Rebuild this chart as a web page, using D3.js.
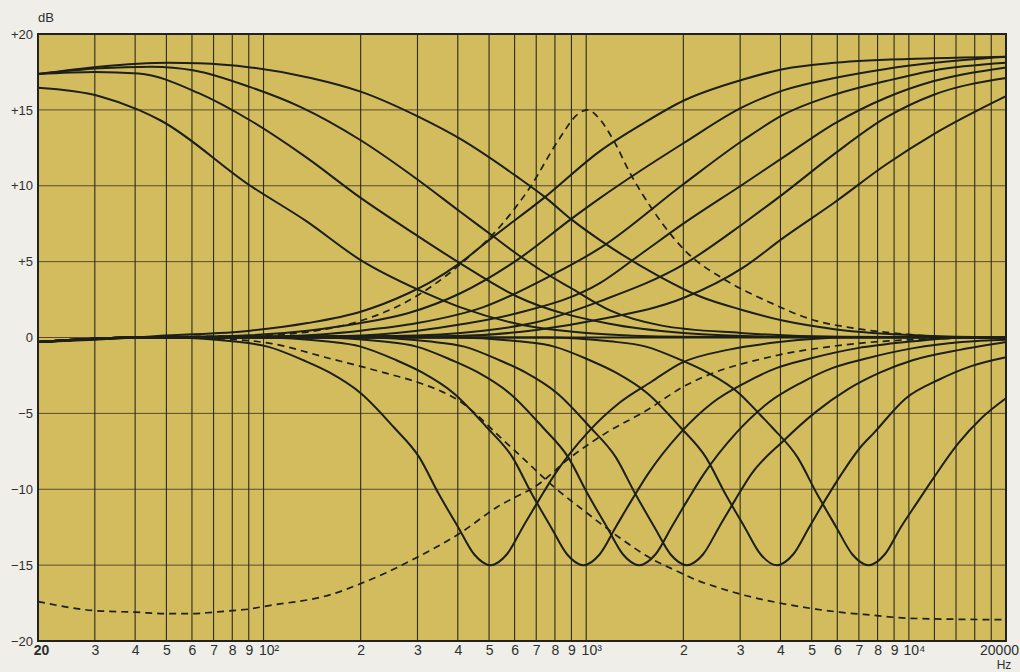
<!DOCTYPE html>
<html>
<head>
<meta charset="utf-8">
<script src="https://cdnjs.cloudflare.com/ajax/libs/d3/7.8.5/d3.min.js"></script>
<style>
body{margin:0;background:#efeee9;}
svg text{font-family:"Liberation Sans",Arial,sans-serif;fill:#2e2e2e;}
</style>
</head>
<body>
<div id="chart"></div>
<script>
// frequency (Hz), level (dB)
var lowShelfA = [[20,17.36],[31,17.85],[51,18.1],[63,18.07],[91,17.8],[140,17.1],[200,16.2],[305,14.5],[406,13.1],[610,10.6],[740,9.3],[910,7.7],[1106,6.4],[1694,4.0],[2255,2.7],[3063,1.8],[4100,1.1],[5880,0.55],[11950,0.1],[20000,0]];
var lowShelfB = [[20,17.36],[31,17.75],[45,17.85],[61,17.6],[91,16.5],[130,15.2],[200,13.0],[305,10.3],[406,8.3],[505,6.8],[610,5.5],[740,4.3],[890,3.3],[1180,1.8],[1700,0.8],[3000,0.3],[6000,0.05],[20000,0]];
var lowShelfC = [[20,17.36],[30,17.5],[41,17.4],[63,16.1],[91,14.3],[135,11.9],[200,9.2],[305,6.6],[406,4.9],[610,2.7],[1180,0.9],[2000,0.3],[4000,0.05],[20000,0]];
var lowShelfD = [[20,16.45],[31,15.9],[41,15.0],[48,14.3],[91,10.0],[135,7.7],[200,5.1],[305,3.1],[406,2.0],[610,0.9],[1000,0.3],[2000,0.05],[20000,0]];

var highShelf1 = [[20,-0.3],[40,0],[47,0.1],[91,0.45],[137,0.95],[200,1.7],[280,2.9],[332,3.7],[406,4.9],[505,6.5],[740,9.2],[1106,12.3],[1500,14.1],[2000,15.6],[3063,17.0],[4100,17.7],[5880,18.1],[11950,18.4],[20000,18.5]];
var highShelf2 = [[20,-0.3],[40,0],[80,0.1],[137,0.45],[200,0.95],[280,1.6],[406,2.9],[610,5.1],[910,7.9],[1106,9.2],[2000,12.8],[3063,15.2],[4100,16.3],[5880,17.1],[8500,17.7],[11950,18.1],[20000,18.5]];
var highShelf3 = [[20,-0.3],[40,0],[120,0.1],[200,0.45],[300,0.95],[480,2.0],[780,4.1],[1106,5.9],[2000,10.1],[3063,13.0],[4100,14.7],[5880,16.0],[8500,16.9],[11950,17.6],[20000,18.1]];
var highShelf4 = [[20,-0.3],[40,0],[180,0.1],[300,0.45],[420,0.9],[610,1.6],[1106,3.6],[1500,5.6],[2000,7.5],[3063,10.1],[4100,11.9],[5880,14.1],[8500,15.8],[11950,16.9],[20000,17.8]];
var highShelf5 = [[20,-0.3],[40,0],[250,0.1],[480,0.45],[700,1.0],[1106,2.4],[2000,4.8],[3063,7.5],[4100,9.5],[5880,12.1],[8500,14.5],[11950,16.0],[20000,17.1]];
var highShelf6 = [[20,-0.3],[40,0],[400,0.1],[700,0.5],[1106,1.2],[2000,2.6],[3063,4.6],[4100,6.6],[5880,8.9],[8500,11.4],[11950,13.4],[20000,15.9]];

var dip500 = [[20,-0.3],[40,0],[50.5,0],[80,-0.25],[103,-0.6],[133,-1.5],[160,-2.3],[201,-3.7],[253,-5.9],[304,-7.9],[349,-10.3],[401,-12.5],[450,-14.3],[505,-15],[567,-14.3],[636,-12.5],[714,-10.7],[800,-9.0],[1007,-6.3],[1268,-4.3],[1597,-2.9],[1960,-1.7],[2770,-0.8],[3960,-0.3],[6400,0],[20000,0]];
var dip1000 = [[20,-0.3],[40,0],[98,0],[155,-0.25],[200,-0.6],[258,-1.5],[310,-2.3],[390,-3.7],[491,-5.9],[591,-7.9],[678,-10.3],[778,-12.5],[873,-14.3],[980,-15],[1100,-14.3],[1234,-12.5],[1385,-10.7],[1553,-9.0],[1955,-6.3],[2462,-4.3],[3099,-3.0],[3901,-2.0],[4912,-1.4],[6937,-0.7],[9800,-0.3],[15530,0],[20000,0]];
var dip1500 = [[20,-0.3],[40,0],[146,0],[231,-0.25],[298,-0.6],[384,-1.5],[462,-2.3],[581,-3.7],[732,-5.9],[880,-7.9],[1010,-10.3],[1160,-12.5],[1301,-14.3],[1460,-15],[1638,-14.3],[1838,-12.5],[2063,-10.7],[2314,-9.0],[2913,-6.3],[3667,-4.3],[4617,-3.0],[5813,-2.0],[7318,-1.4],[10340,-0.7],[14600,-0.3],[20000,-0.15]];
var dip2000 = [[20,-0.3],[40,0],[205,0],[323,-0.25],[419,-0.6],[539,-1.5],[648,-2.3],[816,-3.7],[1027,-5.9],[1236,-7.9],[1419,-10.3],[1628,-12.5],[1827,-14.3],[2050,-15],[2300,-14.3],[2581,-12.5],[2896,-10.7],[3249,-9.0],[4090,-6.8],[5150,-4.9],[6482,-3.4],[8161,-2.3],[10270,-1.5],[14510,-0.8],[20000,-0.3]];
var dip4000 = [[20,-0.3],[40,0],[390,0],[616,-0.25],[796,-0.6],[1026,-1.5],[1233,-2.3],[1553,-3.7],[1955,-5.9],[2350,-7.9],[2698,-10.3],[3098,-12.5],[3476,-14.3],[3900,-15],[4376,-14.3],[4910,-12.5],[5509,-10.7],[6181,-9.0],[7098,-7.2],[7781,-6.3],[9796,-4.0],[12330,-2.8],[15530,-1.9],[20000,-1.3]];
var dip7500 = [[20,-0.3],[40,0],[750,0],[1183,-0.25],[1531,-0.6],[1973,-1.5],[2372,-2.3],[2986,-3.7],[3428,-5.0],[3759,-5.9],[4519,-7.9],[5189,-10.3],[5957,-12.5],[6684,-14.3],[7500,-15],[8415,-14.3],[9442,-12.5],[10590,-10.9],[11890,-9.3],[14200,-7.0],[16800,-5.3],[20000,-4.0]];
var flat = [[20,-0.3],[40,0],[20000,0]];

var presencePeak = [[20,-0.3],[40,0],[100,0.15],[146,0.45],[200,1.1],[280,2.4],[406,4.8],[540,7.3],[670,9.9],[820,13.0],[940,14.7],[1010,15.0],[1100,14.4],[1215,13.0],[1370,10.8],[1585,8.6],[1860,6.6],[2030,5.7],[2670,3.85],[3630,2.4],[5160,1.1],[6500,0.67],[10000,0.2],[14000,0],[20000,0]];
var highCut = [[20,-0.3],[40,0],[63,-0.05],[83,-0.15],[106,-0.4],[155,-1.3],[230,-2.25],[305,-3.0],[360,-3.6],[406,-4.2],[450,-4.95],[540,-6.55],[640,-8.0],[790,-9.8],[1010,-11.6],[1270,-13.2],[1600,-14.6],[1960,-15.5],[2148,-15.9],[2500,-16.4],[3050,-16.95],[4100,-17.55],[5150,-17.9],[6100,-18.1],[7730,-18.3],[10000,-18.5],[20000,-18.6]];
var lowCut = [[20,-17.4],[30,-18.0],[40,-18.1],[50,-18.2],[60,-18.2],[70,-18.1],[80,-18.0],[90,-17.9],[102,-17.7],[164,-16.9],[201,-16.2],[240,-15.5],[292,-14.6],[406,-12.9],[527,-11.2],[730,-9.5],[870,-8.1],[1150,-6.3],[1540,-4.8],[1960,-3.35],[3960,-1.15],[5700,-0.6],[10000,-0.15],[20000,0]];

var solidCurves = [lowShelfA, lowShelfB, lowShelfC, lowShelfD, highShelf1, highShelf2, highShelf3, highShelf4, highShelf5, highShelf6, dip500, dip1000, dip1500, dip2000, dip4000, dip7500, flat];
var dashedCurves = [presencePeak, highCut, lowCut];

var xTickValues = [20,30,40,50,60,70,80,90,100,200,300,400,500,600,700,800,900,1000,2000,3000,4000,5000,6000,7000,8000,9000,10000,20000];
var xTickLabels = ["20","3","4","5","6","7","8","9","10²","2","3","4","5","6","7","8","9","10³","2","3","4","5","6","7","8","9","10⁴","20000"];
var xExtraGrid = [12000,14000,16000,18000];
var yTickValues = [-20,-15,-10,-5,0,5,10,15,20];
var yTickLabels = ["−20","−15","−10","−5","0","+5","+10","+15","+20"];

var W = 1020, H = 672;
var pL = 38, pR = 1006, pT = 34, pB = 641;

var svg = d3.select("#chart").append("svg").attr("width", W).attr("height", H);

var x = d3.scaleLog().domain([20, 20000]).range([pL, pR]);
var y = d3.scaleLinear().domain([-20, 20]).range([pB, pT]);

svg.append("rect")
    .attr("x", pL).attr("y", pT)
    .attr("width", pR - pL).attr("height", pB - pT)
    .attr("fill", "#d2bc5d");

// horizontal grid
svg.append("g").selectAll("line")
    .data(yTickValues)
    .enter().append("line")
    .attr("x1", pL).attr("x2", pR)
    .attr("y1", function(d){ return y(d); })
    .attr("y2", function(d){ return y(d); })
    .attr("stroke", "#5a4a33").attr("stroke-width", 1);

// vertical grid
svg.append("g").selectAll("line")
    .data(xTickValues.concat(xExtraGrid))
    .enter().append("line")
    .attr("x1", function(d){ return x(d); })
    .attr("x2", function(d){ return x(d); })
    .attr("y1", pT).attr("y2", pB)
    .attr("stroke", "#2c2b1d").attr("stroke-width", 1.1);

var line = d3.line()
    .x(function(d){ return x(d[0]); })
    .y(function(d){ return y(d[1]); })
    .curve(d3.curveMonotoneX);

svg.append("g").selectAll("path")
    .data(solidCurves)
    .enter().append("path")
    .attr("d", line)
    .attr("fill", "none")
    .attr("stroke", "#1d2018")
    .attr("stroke-width", 2);

svg.append("g").selectAll("path")
    .data(dashedCurves)
    .enter().append("path")
    .attr("d", line)
    .attr("fill", "none")
    .attr("stroke", "#1d2018")
    .attr("stroke-width", 1.7)
    .attr("stroke-dasharray", "7,5");

// frame
svg.append("rect")
    .attr("x", pL).attr("y", pT)
    .attr("width", pR - pL).attr("height", pB - pT)
    .attr("fill", "none").attr("stroke", "#222").attr("stroke-width", 2);

// axes (labels only)
var xAxis = svg.append("g")
    .attr("transform", "translate(0," + pB + ")")
    .call(d3.axisBottom(x).tickValues(xTickValues)
        .tickFormat(function(d, i){ return xTickLabels[i]; })
        .tickSize(0).tickPadding(4));
xAxis.select(".domain").remove();
xAxis.selectAll("text").attr("font-size", 14).attr("fill", "#2e2e2e")
    .attr("font-family", "Liberation Sans, Arial, sans-serif");
xAxis.selectAll(".tick").filter(function(d){ return d === 20; })
    .select("text").attr("font-weight", "bold").attr("x", 3);
xAxis.selectAll(".tick").filter(function(d){ return d === 100 || d === 1000 || d === 10000; })
    .select("text").attr("x", 5);
xAxis.selectAll(".tick").filter(function(d){ return d === 20000; })
    .select("text").attr("x", -7);

var yAxis = svg.append("g")
    .attr("transform", "translate(" + pL + ",0)")
    .call(d3.axisLeft(y).tickValues(yTickValues)
        .tickFormat(function(d, i){ return yTickLabels[i]; })
        .tickSize(0).tickPadding(5));
yAxis.select(".domain").remove();
yAxis.selectAll("text").attr("font-size", 13).attr("fill", "#2e2e2e")
    .attr("font-family", "Liberation Sans, Arial, sans-serif");

svg.append("text").attr("x", 38).attr("y", 22)
    .attr("font-size", 13).text("dB");
svg.append("text").attr("x", 1004).attr("y", 669)
    .attr("text-anchor", "middle").attr("font-size", 12).text("Hz");
</script>
</body>
</html>
